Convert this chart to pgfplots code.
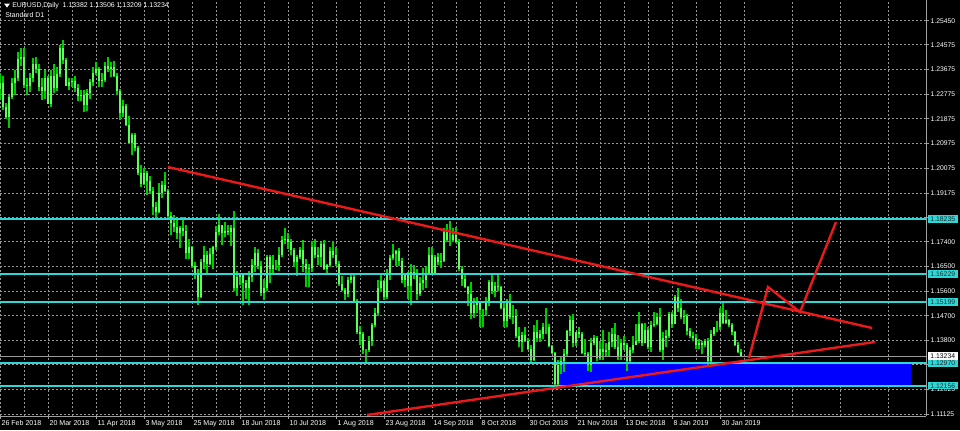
\documentclass[border=0pt]{standalone}
\usepackage{fontspec}
\setmainfont{Liberation Sans}
\usepackage{pgfplots}
\usepackage{pgfplotstable}
\pgfplotsset{compat=1.18}
\definecolor{wickgreen}{RGB}{0,205,0}
\definecolor{bodygreen}{RGB}{90,255,90}
\definecolor{mtcyan}{RGB}{45,215,215}
\definecolor{mtred}{RGB}{235,25,25}
\definecolor{mtblue}{RGB}{0,0,255}
\definecolor{gridgray}{RGB}{150,150,150}

\pgfplotstableread{
i o h l c
0 1.2295 1.2354 1.2259 1.2318
1 1.2318 1.2345 1.2218 1.2230
2 1.2230 1.2245 1.2186 1.2193
3 1.2193 1.2273 1.2155 1.2266
4 1.2266 1.2335 1.2260 1.2317
5 1.2317 1.2365 1.2273 1.2336
6 1.2336 1.2430 1.2327 1.2406
7 1.2406 1.2446 1.2379 1.2411
8 1.2411 1.2446 1.2300 1.2310
9 1.2310 1.2335 1.2273 1.2307
10 1.2307 1.2356 1.2286 1.2336
11 1.2336 1.2409 1.2320 1.2389
12 1.2389 1.2413 1.2356 1.2370
13 1.2370 1.2389 1.2288 1.2303
14 1.2303 1.2336 1.2258 1.2289
15 1.2289 1.2365 1.2260 1.2337
16 1.2337 1.2345 1.2240 1.2240
17 1.2240 1.2365 1.2230 1.2342
18 1.2342 1.2388 1.2280 1.2299
19 1.2299 1.2375 1.2290 1.2352
20 1.2352 1.2456 1.2340 1.2445
21 1.2445 1.2476 1.2388 1.2403
22 1.2403 1.2408 1.2307 1.2308
23 1.2308 1.2337 1.2292 1.2321
24 1.2321 1.2335 1.2304 1.2325
25 1.2325 1.2342 1.2285 1.2300
26 1.2300 1.2314 1.2254 1.2270
27 1.2270 1.2292 1.2251 1.2276
28 1.2276 1.2293 1.2214 1.2238
29 1.2238 1.2295 1.2217 1.2280
30 1.2280 1.2333 1.2260 1.2320
31 1.2320 1.2377 1.2306 1.2355
32 1.2355 1.2395 1.2346 1.2370
33 1.2370 1.2375 1.2302 1.2325
34 1.2325 1.2355 1.2304 1.2330
35 1.2330 1.2395 1.2320 1.2380
36 1.2380 1.2413 1.2357 1.2370
37 1.2370 1.2396 1.2340 1.2375
38 1.2375 1.2400 1.2340 1.2345
39 1.2345 1.2355 1.2275 1.2290
40 1.2290 1.2295 1.2183 1.2210
41 1.2210 1.2255 1.2196 1.2235
42 1.2235 1.2240 1.2160 1.2165
43 1.2165 1.2198 1.2096 1.2100
44 1.2100 1.2135 1.2055 1.2130
45 1.2130 1.2137 1.2072 1.2080
46 1.2080 1.2088 1.1984 1.1990
47 1.1990 1.2020 1.1938 1.1950
48 1.1950 1.2009 1.1946 1.1990
49 1.1990 1.1996 1.1910 1.1960
50 1.1960 1.1980 1.1914 1.1925
51 1.1925 1.1938 1.1838 1.1865
52 1.1865 1.1883 1.1823 1.1850
53 1.1850 1.1955 1.1845 1.1918
54 1.1918 1.1962 1.1900 1.1945
55 1.1945 1.1995 1.1920 1.1925
56 1.1925 1.1931 1.1820 1.1835
57 1.1835 1.1850 1.1763 1.1810
58 1.1810 1.1837 1.1775 1.1795
59 1.1795 1.1827 1.1750 1.1770
60 1.1770 1.1798 1.1717 1.1790
61 1.1790 1.1830 1.1760 1.1780
62 1.1780 1.1800 1.1676 1.1700
63 1.1700 1.1750 1.1678 1.1720
64 1.1720 1.1725 1.1645 1.1650
65 1.1650 1.1667 1.1605 1.1625
66 1.1625 1.1640 1.1510 1.1540
67 1.1540 1.1676 1.1535 1.1665
68 1.1665 1.1725 1.1640 1.1693
69 1.1693 1.1708 1.1617 1.1660
70 1.1660 1.1717 1.1655 1.1695
71 1.1695 1.1725 1.1641 1.1720
72 1.1720 1.1798 1.1710 1.1775
73 1.1775 1.1840 1.1765 1.1800
74 1.1800 1.1801 1.1728 1.1770
75 1.1770 1.1813 1.1756 1.1780
76 1.1780 1.1801 1.1765 1.1775
77 1.1775 1.1800 1.1726 1.1790
78 1.1790 1.1852 1.1560 1.1570
79 1.1570 1.1634 1.1542 1.1610
80 1.1610 1.1625 1.1583 1.1620
81 1.1620 1.1625 1.1508 1.1590
82 1.1590 1.1601 1.1531 1.1570
83 1.1570 1.1633 1.1508 1.1610
84 1.1610 1.1676 1.1595 1.1655
85 1.1655 1.1720 1.1631 1.1700
86 1.1700 1.1715 1.1640 1.1650
87 1.1650 1.1670 1.1541 1.1553
88 1.1553 1.1604 1.1527 1.1570
89 1.1570 1.1690 1.1560 1.1685
90 1.1685 1.1690 1.1591 1.1640
91 1.1640 1.1690 1.1617 1.1655
92 1.1655 1.1673 1.1636 1.1655
93 1.1655 1.1721 1.1633 1.1690
94 1.1690 1.1761 1.1686 1.1745
95 1.1745 1.1790 1.1730 1.1750
96 1.1750 1.1773 1.1714 1.1740
97 1.1740 1.1750 1.1690 1.1710
98 1.1710 1.1716 1.1647 1.1665
99 1.1665 1.1690 1.1615 1.1685
100 1.1685 1.1720 1.1678 1.1710
101 1.1710 1.1745 1.1630 1.1660
102 1.1660 1.1676 1.1575 1.1640
103 1.1640 1.1660 1.1575 1.1645
104 1.1645 1.1744 1.1630 1.1720
105 1.1720 1.1751 1.1680 1.1690
106 1.1690 1.1719 1.1655 1.1685
107 1.1685 1.1740 1.1650 1.1730
108 1.1730 1.1748 1.1636 1.1640
109 1.1640 1.1660 1.1620 1.1655
110 1.1655 1.1720 1.1647 1.1705
111 1.1705 1.1742 1.1680 1.1690
112 1.1690 1.1720 1.1650 1.1660
113 1.1660 1.1670 1.1580 1.1585
114 1.1585 1.1614 1.1562 1.1565
115 1.1565 1.1572 1.1528 1.1550
116 1.1550 1.1610 1.1540 1.1600
117 1.1600 1.1620 1.1590 1.1610
118 1.1610 1.1620 1.1520 1.1525
119 1.1525 1.1530 1.1405 1.1410
120 1.1410 1.1433 1.1365 1.1405
121 1.1405 1.1410 1.1330 1.1345
122 1.1345 1.1350 1.1301 1.1345
123 1.1345 1.1397 1.1340 1.1378
124 1.1378 1.1445 1.1360 1.1438
125 1.1438 1.1500 1.1430 1.1480
126 1.1480 1.1600 1.1470 1.1570
127 1.1570 1.1623 1.1558 1.1597
128 1.1597 1.1600 1.1529 1.1540
129 1.1540 1.1640 1.1531 1.1622
130 1.1622 1.1690 1.1599 1.1680
131 1.1680 1.1733 1.1672 1.1695
132 1.1695 1.1710 1.1650 1.1705
133 1.1705 1.1718 1.1650 1.1670
134 1.1670 1.1680 1.1590 1.1600
135 1.1600 1.1620 1.1575 1.1620
136 1.1620 1.1630 1.1530 1.1580
137 1.1580 1.1660 1.1510 1.1630
138 1.1630 1.1655 1.1605 1.1625
139 1.1625 1.1640 1.1526 1.1550
140 1.1550 1.1610 1.1544 1.1590
141 1.1590 1.1645 1.1565 1.1600
142 1.1600 1.1650 1.1570 1.1625
143 1.1625 1.1720 1.1620 1.1690
144 1.1690 1.1720 1.1620 1.1625
145 1.1625 1.1693 1.1620 1.1685
146 1.1685 1.1700 1.1655 1.1665
147 1.1665 1.1700 1.1645 1.1670
148 1.1670 1.1790 1.1665 1.1775
149 1.1775 1.1803 1.1740 1.1745
150 1.1745 1.1815 1.1725 1.1745
151 1.1745 1.1790 1.1740 1.1765
152 1.1765 1.1795 1.1735 1.1740
153 1.1740 1.1750 1.1635 1.1640
154 1.1640 1.1650 1.1580 1.1605
155 1.1605 1.1625 1.1570 1.1575
156 1.1575 1.1580 1.1505 1.1550
157 1.1550 1.1595 1.1460 1.1480
158 1.1480 1.1535 1.1462 1.1510
159 1.1510 1.1540 1.1480 1.1525
160 1.1525 1.1525 1.1430 1.1490
161 1.1490 1.1495 1.1430 1.1490
162 1.1490 1.1540 1.1470 1.1520
163 1.1520 1.1600 1.1505 1.1595
164 1.1595 1.1620 1.1550 1.1560
165 1.1560 1.1595 1.1540 1.1580
166 1.1580 1.1620 1.1560 1.1575
167 1.1575 1.1580 1.1495 1.1500
168 1.1500 1.1525 1.1430 1.1450
169 1.1450 1.1530 1.1430 1.1515
170 1.1515 1.1550 1.1460 1.1465
171 1.1465 1.1510 1.1440 1.1470
172 1.1470 1.1495 1.1390 1.1395
173 1.1395 1.1430 1.1355 1.1375
174 1.1375 1.1410 1.1340 1.1400
175 1.1400 1.1430 1.1375 1.1380
176 1.1380 1.1390 1.1345 1.1350
177 1.1350 1.1365 1.1300 1.1310
178 1.1310 1.1435 1.1305 1.1410
179 1.1410 1.1455 1.1375 1.1390
180 1.1390 1.1420 1.1375 1.1405
181 1.1405 1.1445 1.1385 1.1430
182 1.1430 1.1500 1.1405 1.1430
183 1.1430 1.1440 1.1355 1.1360
184 1.1360 1.1365 1.1330 1.1335
185 1.1335 1.1340 1.1215 1.1220
186 1.1220 1.1310 1.1215 1.1290
187 1.1290 1.1325 1.1260 1.1305
188 1.1305 1.1350 1.1265 1.1330
189 1.1330 1.1420 1.1320 1.1415
190 1.1415 1.1470 1.1395 1.1455
191 1.1455 1.1475 1.1355 1.1370
192 1.1370 1.1410 1.1360 1.1410
193 1.1410 1.1430 1.1390 1.1405
194 1.1405 1.1410 1.1330 1.1335
195 1.1335 1.1385 1.1320 1.1330
196 1.1330 1.1340 1.1270 1.1290
197 1.1290 1.1390 1.1265 1.1370
198 1.1370 1.1400 1.1365 1.1390
199 1.1390 1.1395 1.1305 1.1315
200 1.1315 1.1380 1.1310 1.1350
201 1.1350 1.1420 1.1310 1.1340
202 1.1340 1.1370 1.1320 1.1345
203 1.1345 1.1410 1.1320 1.1375
204 1.1375 1.1425 1.1355 1.1405
205 1.1405 1.1445 1.1350 1.1355
206 1.1355 1.1400 1.1310 1.1320
207 1.1320 1.1385 1.1310 1.1370
208 1.1370 1.1395 1.1345 1.1365
209 1.1365 1.1370 1.1270 1.1305
210 1.1305 1.1355 1.1300 1.1345
211 1.1345 1.1395 1.1335 1.1365
212 1.1365 1.1440 1.1365 1.1380
213 1.1380 1.1485 1.1370 1.1440
214 1.1440 1.1445 1.1360 1.1370
215 1.1370 1.1445 1.1370 1.1420
216 1.1420 1.1430 1.1350 1.1355
217 1.1355 1.1450 1.1340 1.1435
218 1.1435 1.1485 1.1430 1.1440
219 1.1440 1.1480 1.1435 1.1465
220 1.1465 1.1497 1.1340 1.1345
221 1.1345 1.1410 1.1310 1.1390
222 1.1390 1.1420 1.1355 1.1395
223 1.1395 1.1485 1.1390 1.1475
224 1.1475 1.1485 1.1425 1.1440
225 1.1440 1.1545 1.1440 1.1540
226 1.1540 1.1570 1.1485 1.1500
227 1.1500 1.1530 1.1460 1.1465
228 1.1465 1.1490 1.1440 1.1470
229 1.1470 1.1475 1.1400 1.1415
230 1.1415 1.1425 1.1390 1.1395
231 1.1395 1.1410 1.1380 1.1390
232 1.1390 1.1405 1.1350 1.1365
233 1.1365 1.1385 1.1350 1.1370
234 1.1370 1.1380 1.1330 1.1365
235 1.1365 1.1385 1.1355 1.1380
236 1.1380 1.1390 1.1290 1.1305
237 1.1305 1.1420 1.1290 1.1405
238 1.1405 1.1430 1.1395 1.1430
239 1.1430 1.1450 1.1410 1.1430
240 1.1430 1.1500 1.1420 1.1480
241 1.1480 1.1515 1.1440 1.1445
242 1.1445 1.1490 1.1440 1.1455
243 1.1455 1.1460 1.1430 1.1435
244 1.1435 1.1445 1.1400 1.1410
245 1.1410 1.1415 1.1360 1.1365
246 1.1365 1.1375 1.1335 1.1340
247 1.13382 1.13506 1.13209 1.13234
}\ohlc

\begin{document}
\begin{tikzpicture}[x=0.75pt,y=0.75pt]
\fill[black] (0,0) rectangle (960,-430);
\begin{axis}[
  at={(0,0)}, anchor=north west,
  scale only axis, width=694.5pt, height=312pt,
  xmin=0, xmax=926, ymin=1.11052, ymax=1.26204,
  clip mode=individual,
  axis x line*=bottom, axis y line*=right,
  axis line style={draw=gray!75!white, line width=0.75pt},
  tick align=outside, major tick length=2.25pt, minor tick length=0pt,
  tick style={draw=gray!75!white, line width=0.6pt},
  xtick={0,48,...,720},
  minor xtick={24,72,...,912},
  xticklabels={26 Feb 2018,20 Mar 2018,11 Apr 2018,3 May 2018,25 May 2018,18 Jun 2018,10 Jul 2018,1 Aug 2018,23 Aug 2018,14 Sep 2018,8 Oct 2018,30 Oct 2018,21 Nov 2018,13 Dec 2018,8 Jan 2019,30 Jan 2019},
  xticklabel style={font=\fontsize{5.3}{6}\selectfont, text=white, anchor=north west, inner sep=0pt, xshift=1pt, yshift=-1.2pt},
  ytick={1.11125,1.12025,1.12925,1.13800,1.14700,1.15600,1.16500,1.17400,1.18300,1.19175,1.20075,1.20975,1.21875,1.22775,1.23675,1.24575,1.25450},
  yticklabels={1.11125,1.12025,{},1.13800,1.14700,1.15600,1.16500,1.17400,{},1.19175,1.20075,1.20975,1.21875,1.22775,1.23675,1.24575,1.25450},
  yticklabel style={font=\fontsize{5.1}{6}\selectfont, text=white, anchor=west, inner sep=0pt, xshift=1pt},
  grid=both,
  major grid style={draw=gridgray, dash pattern=on 1.5pt off 1.5pt, line width=0.6pt},
  minor grid style={draw=gridgray, dash pattern=on 1.5pt off 1.5pt, line width=0.6pt},
]
% support zone
\addplot[fill=mtblue, draw=none, forget plot] coordinates {(557,1.12970) (911,1.12970) (911,1.12156) (557,1.12156)} -- cycle;
% wicks
\addplot[draw=none, mark=none, forget plot,
  error bars/.cd, y dir=plus, y explicit, error mark=none,
  error bar style={draw=wickgreen, solid, line width=0.8pt}]
  table[x expr=3*\thisrow{i}, y=l, y error plus expr=\thisrow{h}-\thisrow{l}] {\ohlc};
% bodies
\addplot[draw=none, mark=none, forget plot,
  error bars/.cd, y dir=plus, y explicit, error mark=none,
  error bar style={draw=bodygreen, solid, line width=1.6pt}]
  table[x expr=3*\thisrow{i}, y expr={min(\thisrow{o},\thisrow{c})}, y error plus expr={abs(\thisrow{c}-\thisrow{o})}] {\ohlc};
% current price line
\addplot[gray!80!white, line width=0.6pt, forget plot] coordinates {(0,1.13234) (926,1.13234)};
% horizontal levels
\addplot[mtcyan, line width=1.5pt, forget plot] coordinates {(0,1.18235) (926,1.18235)};
\addplot[mtcyan, line width=1.5pt, forget plot] coordinates {(0,1.16229) (926,1.16229)};
\addplot[mtcyan, line width=1.5pt, forget plot] coordinates {(0,1.15199) (926,1.15199)};
\addplot[mtcyan, line width=1.5pt, forget plot] coordinates {(0,1.12970) (926,1.12970)};
\addplot[mtcyan, line width=1.5pt, forget plot] coordinates {(0,1.12156) (926,1.12156)};
% trend lines
\addplot[mtred, line width=1.8pt, forget plot] coordinates {(168,1.20121) (872,1.14258)};
\addplot[mtred, line width=1.8pt, forget plot] coordinates {(367,1.11089) (875,1.13748)};
\addplot[mtred, line width=1.8pt, forget plot] coordinates {(749,1.13165) (768,1.15751) (800,1.14840) (836,1.18118)};
% price labels on the right
\tikzset{plab/.style={anchor=west, inner sep=0pt, minimum width=22.5pt, minimum height=5.6pt, font=\fontsize{5.1}{6}\selectfont}}
\node[plab, fill=mtcyan, text=black!85] at (axis cs:927.5,1.18235) {1.18235};
\node[plab, fill=mtcyan, text=black!85] at (axis cs:927.5,1.16229) {1.16229};
\node[plab, fill=mtcyan, text=black!85] at (axis cs:927.5,1.15199) {1.15199};
\node[plab, fill=white, text=black] at (axis cs:927.5,1.13234) {1.13234};
\node[plab, fill=mtcyan, text=black!85] at (axis cs:927.5,1.12970) {1.12970};
\node[plab, fill=mtcyan, text=black!85] at (axis cs:927.5,1.12156) {1.12156};
\end{axis}
% header
\fill[white] (4,-3.5) -- (10,-3.5) -- (7,-7.5) -- cycle;
\node[anchor=west, inner sep=0pt, text=white, font=\fontsize{5.2}{6}\selectfont] at (12,-5.5) {EURUSD,Daily\ \ 1.13382 1.13506 1.13209 1.13234};
\node[anchor=west, inner sep=0pt, text=white, font=\fontsize{5.2}{6}\selectfont] at (5,-15.5) {Standard D1};
\pgfresetboundingbox
\path[use as bounding box] (0,0) rectangle (960,-430);
\end{tikzpicture}
\end{document}
